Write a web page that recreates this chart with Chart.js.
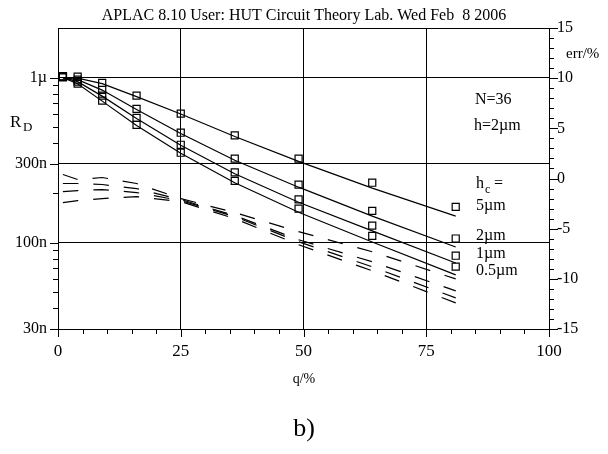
<!DOCTYPE html>
<html>
<head>
<meta charset="utf-8">
<script src="https://cdn.jsdelivr.net/npm/chart.js@4/dist/chart.umd.min.js"></script>
<style>
  html, body { margin: 0; padding: 0; background: #fff; }
  #wrap { width: 608px; height: 454px; }
</style>
</head>
<body>
<div id="wrap"><canvas id="chart" width="608" height="454"></canvas></div>
<script>
// q/% sample points
const qPts = [1, 4, 9, 16, 25, 36, 49, 64, 81];

// R_D in nano units, measured (squares)
const meas5  = [1020, 1014, 929, 779, 606, 447, 323, 231, 165];
const meas2  = [1015, 973, 843, 647, 464, 323, 225, 156, 106];
const meas1  = [1010, 946, 779, 571, 392, 267, 183, 127, 83.4];
const meas05 = [1005, 920, 726, 518, 351, 237, 161, 110, 71.6];

// R_D model (solid lines)
const model5  = [1000, 993, 920, 768, 602, 440, 311, 214, 145];
const model2  = [1000, 973, 841, 641, 459, 316, 217, 145, 94.2];
const model1  = [1000, 946, 773, 566, 389, 262, 176, 118, 75.4];
const model05 = [1000, 920, 721, 513, 348, 231, 153, 101, 63.8];

// err/% (dashed, right axis)
const errA = [0.4, -0.1, 0.1, -0.5, -2.0, -3.4, -5.3, -7.3, -10.0];
const errB = [-0.5, -0.5, -0.6, -1.0, -2.1, -3.7, -6.1, -8.3, -11.2];
const errC = [-1.3, -1.2, -1.1, -1.4, -2.2, -3.8, -6.3, -8.8, -11.9];
const errD = [-2.4, -2.2, -2.0, -1.8, -2.3, -4.0, -6.6, -9.2, -12.4];

// axis ticks
const leftMajor = [30, 100, 300, 1000];
const leftLabels = { 30: "30n", 100: "100n", 300: "300n", 1000: "1µ" };
const leftMinor = [40, 50, 60, 70, 80, 90, 200, 400, 500, 600, 700, 800, 900];
const xMajor = [0, 25, 50, 75, 100];
const xMinor = [5, 10, 15, 20, 30, 35, 40, 45, 55, 60, 65, 70, 80, 85, 90, 95];
const rightMajor = [-15, -10, -5, 0, 5, 10, 15];
const rightMinor = [-14, -13, -12, -11, -9, -8, -7, -6, -4, -3, -2, -1,
                    1, 2, 3, 4, 6, 7, 8, 9, 11, 12, 13, 14];

const FONT = "'Liberation Serif', 'DejaVu Serif', serif";

function pts(ys) {
  return qPts.map((x, i) => ({ x: x, y: ys[i] }));
}

function modelSet(ys) {
  return { data: pts(ys), yAxisID: "y", borderColor: "#000", borderWidth: 1.2,
           pointRadius: 0, fill: false, tension: 0 };
}
function measSet(ys) {
  return { data: pts(ys), yAxisID: "y", showLine: false, pointStyle: "rect",
           pointRadius: 5, pointBorderWidth: 1.2, pointBorderColor: "#000",
           pointBackgroundColor: "rgba(0,0,0,0)" };
}
function errSet(ys) {
  return { data: pts(ys), yAxisID: "y2", borderColor: "#000", borderWidth: 1.2,
           borderDash: [15.5, 15], pointRadius: 0, fill: false, tension: 0 };
}

const decor = {
  id: "decor",
  afterDraw(chart) {
    const { ctx, chartArea: a, scales } = chart;
    ctx.save();
    ctx.strokeStyle = "#000";
    ctx.lineWidth = 1;
    ctx.strokeRect(Math.round(a.left) + 0.5, Math.round(a.top) + 0.5,
                   Math.round(a.right - a.left), Math.round(a.bottom - a.top));

    // tick marks, pointing outward
    const yL = scales.y, yR = scales.y2, xs = scales.x;
    const hl = (scale, v, x0, len) => {
      const y = Math.round(scale.getPixelForValue(v)) + 0.5;
      ctx.beginPath(); ctx.moveTo(x0, y); ctx.lineTo(x0 + len, y); ctx.stroke();
    };
    const vl = (v, len) => {
      const x = Math.round(xs.getPixelForValue(v)) + 0.5;
      ctx.beginPath(); ctx.moveTo(x, a.bottom); ctx.lineTo(x, a.bottom + len); ctx.stroke();
    };
    leftMajor.forEach(v => hl(yL, v, a.left, -8));
    leftMinor.forEach(v => hl(yL, v, a.left, -5));
    rightMajor.forEach(v => hl(yR, v, a.right, 9));
    rightMinor.forEach(v => hl(yR, v, a.right, 5));
    xMajor.forEach(v => vl(v, 8));
    xMinor.forEach(v => vl(v, 5));

    // texts
    ctx.fillStyle = "#000";
    ctx.textBaseline = "alphabetic";
    ctx.textAlign = "center";
    ctx.font = "16px " + FONT;
    ctx.fillText("APLAC 8.10 User: HUT Circuit Theory Lab. Wed Feb  8 2006", 304, 20);
    ctx.font = "14px " + FONT;
    ctx.fillText("q/%", 304, 383);
    ctx.font = "26px " + FONT;
    ctx.fillText("b)", 304, 436);

    ctx.textAlign = "left";
    ctx.font = "17px " + FONT;
    ctx.fillText("R", 10, 127);
    ctx.font = "13px " + FONT;
    ctx.fillText("D", 23, 131);
    ctx.font = "15px " + FONT;
    ctx.fillText("err/%", 566, 58);

    ctx.font = "16px " + FONT;
    ctx.fillText("N=36", 475, 104);
    ctx.fillText("h=2µm", 474, 130);
    ctx.fillText("h", 476, 188);
    ctx.font = "12px " + FONT;
    ctx.fillText("c", 485, 193);
    ctx.font = "16px " + FONT;
    ctx.fillText("=", 494, 188);
    ctx.fillText("5µm", 476, 210);
    const w2 = ctx.measureText("2µm").width;
    ctx.fillStyle = "#fff";
    ctx.fillRect(474, 228, w2 + 4, 14);
    ctx.fillStyle = "#000";
    ctx.fillText("2µm", 476, 240);
    ctx.fillText("1µm", 476, 258);
    ctx.fillText("0.5µm", 476, 275);
    ctx.restore();
  }
};

new Chart(document.getElementById("chart"), {
  type: "line",
  data: {
    datasets: [
      modelSet(model5), modelSet(model2), modelSet(model1), modelSet(model05),
      measSet(meas5), measSet(meas2), measSet(meas1), measSet(meas05),
      errSet(errA), errSet(errB), errSet(errC), errSet(errD)
    ]
  },
  options: {
    responsive: false,
    animation: false,
    layout: { padding: { top: 28, left: 0, right: 0, bottom: 0 } },
    plugins: { legend: { display: false }, tooltip: { enabled: false } },
    scales: {
      x: {
        type: "linear", min: 0, max: 100,
        afterFit: s => { s.height = 125; },
        afterBuildTicks: s => { s.ticks = xMajor.map(v => ({ value: v })); },
        grid: { color: "#000", lineWidth: 1, drawTicks: false },
        border: { color: "#000", width: 1 },
        ticks: { color: "#000", padding: 12, maxRotation: 0,
                 font: { family: FONT, size: 17 } }
      },
      y: {
        type: "logarithmic", position: "left", min: 30, max: 2000,
        afterFit: s => { s.width = 58; },
        afterBuildTicks: s => { s.ticks = leftMajor.map(v => ({ value: v })); },
        grid: { color: "#000", lineWidth: 1, drawTicks: false },
        border: { color: "#000", width: 1 },
        ticks: { color: "#000", padding: 11, callback: v => leftLabels[v],
                 font: { family: FONT, size: 16 } }
      },
      y2: {
        type: "linear", position: "right", min: -15, max: 15,
        afterFit: s => { s.width = 59; },
        afterBuildTicks: s => { s.ticks = rightMajor.map(v => ({ value: v })); },
        grid: { display: false, drawTicks: false },
        border: { color: "#000", width: 1 },
        ticks: { color: "#000", padding: 8, callback: v => String(v),
                 font: { family: FONT, size: 16 } }
      }
    }
  },
  plugins: [decor]
});
</script>
</body>
</html>
